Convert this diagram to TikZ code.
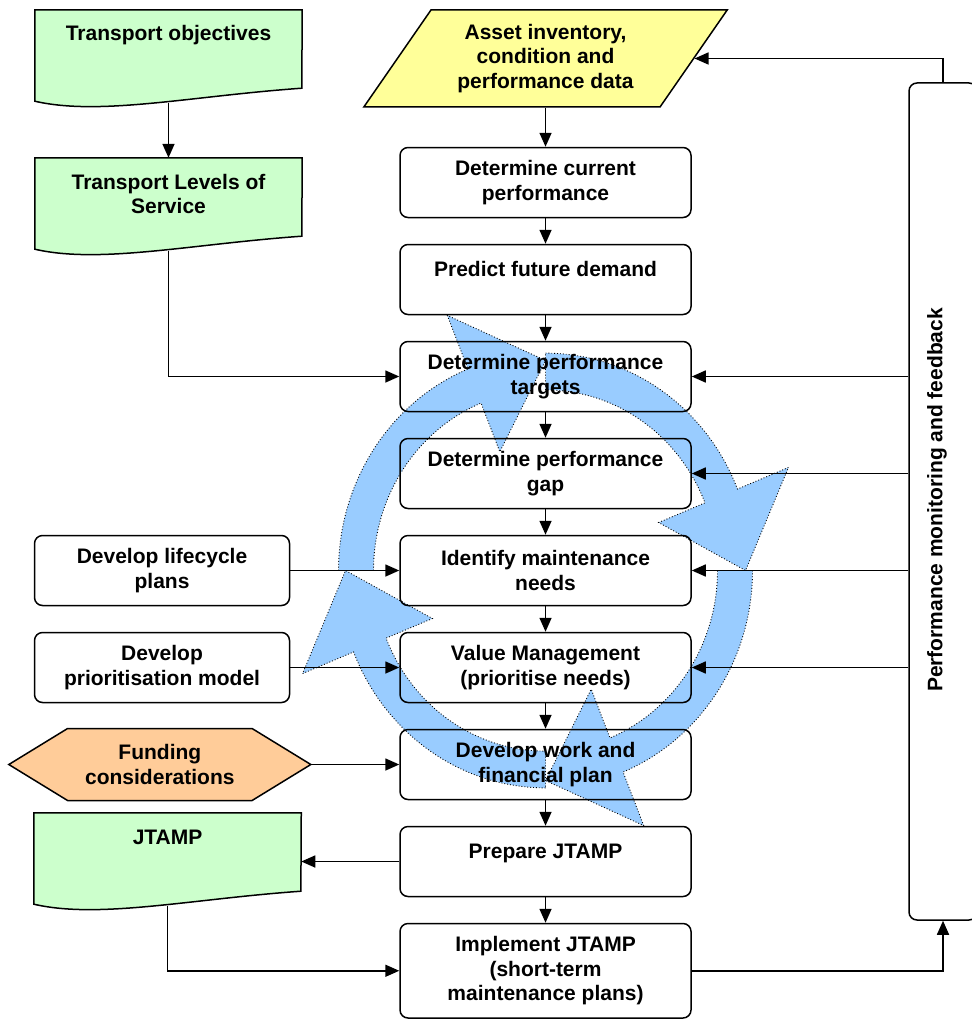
\documentclass[tikz,border=0pt]{standalone}
\usepackage{fontspec}
\setmainfont{Liberation Sans}
\usetikzlibrary{arrows.meta,positioning,shapes.geometric,shapes.symbols}

\definecolor{docgreen}{HTML}{CCFFCC}
\definecolor{datayellow}{HTML}{FFFF99}
\definecolor{fundorange}{HTML}{FFCC99}
\definecolor{loopblue}{HTML}{99CCFF}

\pgfdeclarelayer{background}
\pgfsetlayers{background,main}

\newcommand{\flowfont}{\bfseries\fontsize{21pt}{24.5pt}\selectfont}
% outline of a document node (wavy bottom edge)
\newcommand{\docshape}[1]{%
  \draw[docline] (#1.north west) -- (#1.north east)
    -- ([shift={(267,-19)}]#1.south west)
    .. controls ([shift={(155,-11)}]#1.south west) and ([shift={(65,9)}]#1.south west)
    .. ([shift={(0,-6)}]#1.south west) -- cycle;}

\begin{document}
\begin{tikzpicture}[
  x=1pt, y=-1pt,
  node distance=25.5pt,
  box/.style={draw, line width=1.5pt, rounded corners=8pt, align=center,
    minimum width=291pt, minimum height=70pt, inner sep=2pt, font=\flowfont},
  side/.style={box, minimum width=255pt},
  oneline/.style={text height=15pt, text depth=21pt},
  doc/.style={align=center, inner sep=0pt, minimum width=267pt,
    text height=31pt, text depth=66pt, font=\flowfont},
  twodoc/.style={text height=55.5pt, text depth=41.5pt},
  docline/.style={draw, line width=1.5pt, fill=docgreen},
  line/.style={-{Triangle[length=14pt,width=12pt]}, line width=1.6pt},
  loopband/.style={fill=loopblue, draw=black, dotted, line width=0.9pt}
]
\useasboundingbox (0,0) rectangle (971,1019);

\node[trapezium, trapezium left angle=53, trapezium right angle=127,
  trapezium stretches=true, draw, line width=1.5pt, fill=datayellow,
  minimum width=364pt, minimum height=97pt, inner sep=0pt, align=center,
  font=\flowfont] (assets) at (545.5,58.5)
  {Asset inventory,\\condition and\\performance data};

\node[box, below=39pt of assets] (current) {Determine current\\performance};
\node[box, oneline, below=of current] (predict) {Predict future demand};
\node[box, below=of predict] (targets) {Determine performance\\targets};
\node[box, below=of targets] (gap) {Determine performance\\gap};
\node[box, below=of gap] (identify) {Identify maintenance\\needs};
\node[box, below=of identify] (value) {Value Management\\(prioritise needs)};
\node[box, below=of value] (develop) {Develop work and\\financial plan};
\node[box, oneline, below=of develop] (prepare) {Prepare JTAMP};
\node[box, minimum height=94.5pt, below=of prepare] (implement)
  {Implement JTAMP\\(short-term\\maintenance plans)};

\node[doc] (objectives) at (168.5,58.5) {Transport objectives};
\node[doc, twodoc] (levels) at (168.5,206.5) {Transport Levels of\\Service};
\node[side, left=109pt of identify] (lifecycle) {Develop lifecycle\\plans};
\node[side, left=109pt of value] (prioritisation) {Develop\\prioritisation model};
\node[signal, signal to=east and west, signal pointer angle=63, draw,
  line width=1.5pt, fill=fundorange, minimum width=302pt, minimum height=72pt,
  inner sep=0pt, align=center, font=\flowfont, left=87pt of develop] (funding)
  {Funding\\considerations};
\node[doc, left=98pt of prepare] (jtamp) {JTAMP};

\node[draw, line width=1.5pt, rounded corners=8pt, minimum width=68pt,
  minimum height=837pt] (feedback) at (943,501.5) {};
\node[rotate=90, font=\flowfont] (feedbacktext) at (937,500)
  {Performance monitoring and feedback};

\begin{pgfonlayer}{background}
  \begin{scope}[shift={(identify.center)}, yscale=1.05]
    \foreach \a in {0,90,180,270}
      \filldraw[loopband] (\a:207) arc[start angle=\a, end angle=\a+68, radius=207]
        -- (\a+68:262) -- (\a+90:200) -- (\a+68:122) -- (\a+68:172)
        arc[start angle=\a+68, end angle=\a, radius=172] -- cycle;
  \end{scope}
  \docshape{objectives}
  \docshape{levels}
  \docshape{jtamp}
\end{pgfonlayer}

\foreach \a/\b in {assets/current, current/predict, predict/targets,
  targets/gap, gap/identify, identify/value, value/develop,
  develop/prepare, prepare/implement}
  \draw[line] (\a.south) -- (\b.north);

\draw[line] ([yshift=4pt]objectives.south) -- (levels.north);
\draw[line] ([yshift=4pt]levels.south) |- (targets.west);
\draw[line] (lifecycle) -- (identify);
\draw[line] (prioritisation) -- (value);
\draw[line] (funding.east) -- (develop.west);
\draw[line] (prepare.west) -- (jtamp.east);
\draw[line] ([yshift=4pt]jtamp.south) |- (implement.west);

\draw[line] (feedback.north) |- (assets.east);
\foreach \n in {targets,gap,identify,value}
  \draw[line] (feedback.west |- \n.east) -- (\n.east);
\draw[line] (implement.east) -| (feedback.south);
\end{tikzpicture}
\end{document}
